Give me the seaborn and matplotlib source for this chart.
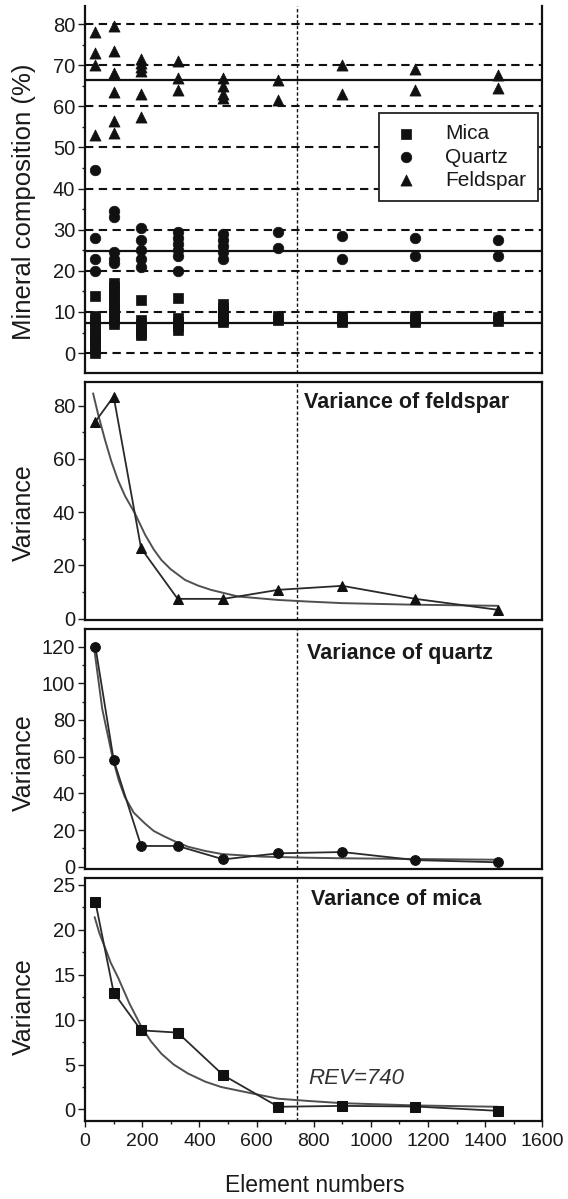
import numpy as np
import pandas as pd
import matplotlib
matplotlib.use("Agg")
import matplotlib.pyplot as plt
import seaborn as sns
from matplotlib.ticker import MultipleLocator

# ---------------- data ----------------
element_numbers = [36, 100, 196, 324, 484, 676, 900, 1156, 1444]

# mineral composition (%) samples at each element number
mica_comp = [
    [14, 9, 8, 7, 6, 5, 4, 3, 2, 1, 0],
    [17, 16, 15, 14, 13, 12, 11, 10, 9, 8, 7],
    [13, 8, 7, 6, 5, 4.5],
    [13.5, 8.5, 7.5, 6.5, 5.5],
    [12, 11, 10, 9, 8, 7.5],
    [9, 8],
    [9, 8, 7.5],
    [9, 8, 7.5],
    [8.7, 7.8],
]
quartz_comp = [
    [44.5, 28, 23, 20],
    [34.5, 33, 24.5, 23, 22],
    [30.5, 27.5, 25, 23, 21],
    [29.5, 28, 26.5, 25, 23.5, 20],
    [29, 27.5, 26, 24.5, 23],
    [29.5, 25.5],
    [28.5, 23],
    [28, 23.5],
    [27.5, 23.5],
]
feldspar_comp = [
    [78, 73, 70, 53],
    [79.5, 73.5, 68, 63.5, 56.5, 53.5],
    [71.5, 70.5, 69.5, 68.5, 63, 57.5],
    [71, 67, 64],
    [67, 65, 63, 62],
    [66.5, 61.5],
    [70, 63],
    [69, 64],
    [67.5, 64.5],
]
mean_lines = {"Feldspar": 66.4, "Quartz": 24.9, "Mica": 7.2}

# variance data
feldspar_var = [74.0, 83.4, 26.4, 7.4, 7.4, 10.8, 12.3, 7.4, 3.3]
quartz_var = [120, 58.2, 11.3, 11.3, 4.0, 7.3, 8.0, 3.6, 2.4]
mica_var = [23.1, 13.0, 8.8, 8.55, 3.8, 0.3, 0.4, 0.33, -0.15]

# fitted trend curves
feldspar_fit_x = [28, 45, 70, 92, 115, 140, 174, 210, 240, 267, 300, 350, 395, 440, 535, 675, 780, 900, 1156, 1444]
feldspar_fit_y = [84.6, 77, 67, 59, 52, 46, 39.6, 31.5, 26, 22, 18.5, 14.5, 12.4, 10.8, 8.3, 7.0, 6.4, 5.8, 5.2, 4.8]
quartz_fit_x = [31, 60, 97.6, 118, 138.5, 170, 208.5, 240, 278.5, 320, 360, 420, 479, 616, 780, 900, 1156, 1444]
quartz_fit_y = [120, 86, 58.5, 47, 38.2, 29.5, 23.7, 19.5, 16.4, 13.4, 10.9, 8.6, 6.9, 5.5, 4.9, 4.6, 4.2, 3.8]
mica_fit_x = [33.5, 50, 68.5, 90, 115, 155, 197, 230, 267, 310, 360, 420, 476, 582, 675, 780, 900, 1156, 1444]
mica_fit_y = [21.4, 19.6, 18.1, 16.3, 14.7, 11.8, 9.2, 7.6, 6.2, 5.0, 4.0, 3.1, 2.5, 1.8, 1.2, 0.95, 0.7, 0.45, 0.3]

rev_value = 740

# ---------------- style ----------------
sns.set_theme(style="white")
plt.rcParams["font.family"] = ["Liberation Sans", "DejaVu Sans"]
TXT = "#1a1a1a"
plt.rcParams["text.color"] = TXT
plt.rcParams["axes.labelcolor"] = TXT
plt.rcParams["xtick.color"] = TXT
plt.rcParams["ytick.color"] = TXT

fig = plt.figure(figsize=(5.68, 11.99), dpi=100)
L, W = 0.1498, 0.8051
ax1 = fig.add_axes([L, 0.6887, W, 0.3063])
ax2 = fig.add_axes([L, 0.4832, W, 0.1985])
ax3 = fig.add_axes([L, 0.2750, W, 0.2007])
ax4 = fig.add_axes([L, 0.06514, W, 0.2030])

def long_frame(cols, name):
    rows = []
    for x, vals in zip(element_numbers, cols):
        for v in vals:
            rows.append((x, v, name))
    return pd.DataFrame(rows, columns=["elements", "value", "mineral"])

comp_df = pd.concat([
    long_frame(mica_comp, "Mica"),
    long_frame(quartz_comp, "Quartz"),
    long_frame(feldspar_comp, "Feldspar"),
])

def style_axes(ax, ylim, major, minor, bottom=False):
    ax.set_xlim(0, 1600)
    ax.set_ylim(*ylim)
    ax.yaxis.set_major_locator(MultipleLocator(major))
    ax.yaxis.set_minor_locator(MultipleLocator(minor))
    for s in ax.spines.values():
        s.set_color("#111111")
        s.set_linewidth(1.6)
    ax.tick_params(axis="y", which="major", direction="out", length=5,
                   width=1, labelsize=14.5, pad=2, left=True)
    ax.tick_params(axis="y", which="minor", direction="out", length=2.5,
                   width=1, left=True)
    if bottom:
        ax.xaxis.set_major_locator(MultipleLocator(200))
        ax.xaxis.set_minor_locator(MultipleLocator(100))
        ax.tick_params(axis="x", which="major", direction="out", length=4.5,
                       width=1, labelsize=14, pad=4, bottom=True)
        ax.tick_params(axis="x", which="minor", direction="out", length=2.5,
                       width=1, bottom=True)
    else:
        ax.tick_params(axis="x", which="both", bottom=False, labelbottom=False)
    ax.axvline(rev_value, color="#111111", lw=1.0, ls=(0, (2.4, 1.6)), zorder=1)

# ---------------- panel 1: composition ----------------
style_axes(ax1, (-4.9, 84.4), 10, 5)
ax1.spines["top"].set_visible(False)
ax1.grid(axis="y", which="major", color="#111111", lw=1.5, ls=(0, (4.0, 2.6)))
ax1.set_axisbelow(True)
for name, val in mean_lines.items():
    ax1.axhline(val, color="#111111", lw=1.6, zorder=2)

marker_spec = {"Mica": ("s", 44), "Quartz": ("o", 58), "Feldspar": ("^", 64)}
for name in ["Mica", "Quartz", "Feldspar"]:
    m, s = marker_spec[name]
    sns.scatterplot(data=comp_df[comp_df.mineral == name], x="elements", y="value",
                    marker=m, s=s, color="#111111", edgecolor="#111111",
                    linewidth=0.5, label=name, ax=ax1, zorder=3)
leg = ax1.legend(loc="upper left", bbox_to_anchor=(0.642, 0.7087), fontsize=15,
                 frameon=True, fancybox=False, edgecolor="#222222", framealpha=1,
                 handletextpad=1.15, labelspacing=0.2, borderpad=0.55,
                 handlelength=1.5, borderaxespad=0)
leg.get_frame().set_linewidth(1.3)
ax1.set_xlabel("")
ax1.set_ylabel("Mineral composition (%)", fontsize=18.5, va="center")
ax1.yaxis.set_label_coords(-0.1336, 0.468)

# ---------------- variance panels ----------------
def var_panel(ax, var, fit_x, fit_y, marker, ms, title, title_xy, ylab_y):
    sns.lineplot(x=fit_x, y=fit_y, color="#505050", lw=1.4, ax=ax,
                 sort=False, estimator=None, zorder=2)
    sns.lineplot(x=element_numbers, y=var, color="#2a2a2a", lw=1.3,
                 marker=marker, markersize=ms, markeredgecolor="#111111",
                 markerfacecolor="#111111", ax=ax, sort=False,
                 estimator=None, zorder=3)
    ax.text(title_xy[0], title_xy[1], title, fontsize=15.5, fontweight="bold",
            va="center", ha="left")
    ax.set_ylabel("Variance", fontsize=18, va="center")
    ax.yaxis.set_label_coords(-0.1336, ylab_y)

style_axes(ax2, (-0.4, 89.0), 20, 10)
var_panel(ax2, feldspar_var, feldspar_fit_x, feldspar_fit_y, "^", 7.5,
          "Variance of feldspar", (766, 81.3), 0.448)

style_axes(ax3, (-1.4, 129.8), 20, 10)
var_panel(ax3, quartz_var, quartz_fit_x, quartz_fit_y, "o", 7,
          "Variance of quartz", (777, 116.4), 0.444)

style_axes(ax4, (-1.27, 25.8), 5, 2.5, bottom=True)
var_panel(ax4, mica_var, mica_fit_x, mica_fit_y, "s", 6.5,
          "Variance of mica", (790, 23.4), 0.471)
ax4.text(780, 3.5, f"REV={rev_value}", fontsize=16, fontstyle="italic",
         va="center", ha="left", color="#333333")
ax4.set_xlabel("Element numbers", fontsize=16.5, va="center")
ax4.xaxis.set_label_coords(0.503, -0.264)

fig.savefig("out.png", dpi=100)
